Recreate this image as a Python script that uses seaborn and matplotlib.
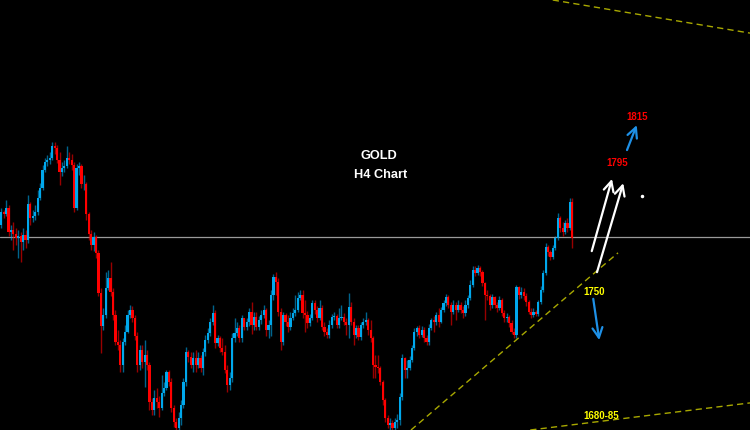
import matplotlib
matplotlib.use("Agg")
import matplotlib.pyplot as plt
import pandas as pd
import seaborn as sns

# GOLD H4 candles (open of each bar = previous close)
first_open = 1787.5
closes = [1794, 1793, 1796, 1784, 1785, 1783, 1781, 1782, 1779, 1782.5,
          1780, 1798, 1791, 1792, 1794, 1801, 1806, 1815, 1819, 1820,
          1821, 1827, 1826, 1820, 1814, 1816, 1817, 1821, 1820, 1817.5,
          1796, 1816, 1817, 1808, 1808, 1793, 1783, 1777.5, 1781.5, 1773.5,
          1753.5, 1737, 1742.5, 1756, 1761, 1754, 1742.5, 1729, 1727.5, 1717.5,
          1729, 1734, 1742.5, 1745, 1741, 1732, 1717.5, 1725, 1719, 1722.5,
          1717.5, 1699, 1695, 1701, 1699, 1696, 1703.5, 1706, 1714, 1709,
          1696, 1689, 1686, 1691, 1697.5, 1709, 1724, 1721.5, 1717.5, 1721,
          1717.5, 1721, 1716, 1724, 1730, 1733.5, 1739, 1743.5, 1728.5, 1731,
          1726, 1724, 1715, 1707.5, 1711, 1731, 1733.5, 1736, 1731, 1741,
          1736.5, 1739, 1744, 1737.5, 1741.5, 1736.5, 1740, 1742.5, 1745, 1735,
          1737.5, 1752.5, 1761.5, 1759, 1744, 1729, 1742.5, 1739, 1736.5, 1741,
          1743.5, 1745, 1751, 1752.5, 1743.5, 1742.5, 1738.5, 1741, 1748.5, 1745,
          1741, 1746, 1736.5, 1734, 1732.5, 1737.5, 1741.5, 1742, 1737.5, 1741,
          1741.5, 1739, 1737.5, 1746.5, 1739, 1732.5, 1736, 1731.5, 1737.5, 1739,
          1740, 1735, 1731, 1717.5, 1716.5, 1716, 1709, 1700, 1691, 1687.5,
          1688.5, 1686, 1689, 1690, 1701.5, 1721, 1715, 1716, 1720, 1726,
          1734, 1736, 1732.5, 1735, 1731, 1729, 1736, 1740, 1739, 1742.5,
          1739, 1745, 1748.5, 1751.5, 1747.5, 1744, 1747.5, 1745, 1747.5, 1745,
          1743.5, 1747.5, 1751, 1757.5, 1765, 1763.5, 1766, 1764, 1758.5, 1752.5,
          1752, 1747.5, 1751.5, 1747.5, 1746, 1750, 1743.5, 1741, 1741.5, 1738.5,
          1734, 1732.5, 1756.5, 1752.5, 1754, 1752, 1749, 1744, 1742.5, 1744,
          1743, 1749, 1755, 1763.5, 1776.5, 1774, 1771.5, 1776, 1781, 1791,
          1786, 1784, 1788.5, 1786, 1799, 1781]
highs = [1796, 1795, 1800, 1797.5, 1787.5, 1789, 1786, 1785, 1784, 1786,
         1785, 1802.5, 1799, 1795, 1797.5, 1805, 1808.5, 1817.5, 1821, 1822.5,
         1824, 1829, 1829, 1827.5, 1824, 1819, 1820, 1827, 1824, 1823,
         1819, 1818, 1819, 1818, 1812.5, 1809, 1794, 1785, 1784, 1782.5,
         1775, 1756, 1746, 1764, 1765, 1769, 1756, 1745, 1735, 1730,
         1731, 1737.5, 1745, 1747.5, 1747, 1742.5, 1734, 1727.5, 1727.5, 1730,
         1725, 1719, 1701, 1705, 1706, 1702, 1712.5, 1709, 1715, 1715,
         1711, 1697.5, 1691, 1694, 1700, 1711, 1726.5, 1725, 1724, 1724,
         1725, 1724, 1722.5, 1726, 1732.5, 1736, 1741, 1747.5, 1745, 1732.5,
         1732, 1731, 1727.5, 1717.5, 1714, 1733.5, 1741, 1739, 1737.5, 1742.5,
         1741, 1741, 1746, 1749, 1744, 1744, 1742, 1745, 1747.5, 1746,
         1740, 1755, 1763, 1764, 1761, 1746, 1744, 1743.5, 1742.5, 1744,
         1746, 1752.5, 1754, 1755, 1755, 1750, 1744.5, 1743, 1750, 1750,
         1747, 1750, 1747.5, 1739, 1736, 1740, 1743, 1744, 1743, 1746,
         1747.5, 1743.5, 1741, 1753.5, 1749, 1741, 1737.5, 1737.5, 1739, 1741,
         1744, 1741, 1740, 1732, 1722.5, 1722.5, 1717, 1710, 1701, 1692.5,
         1691, 1690, 1691, 1693, 1703.5, 1723, 1721.5, 1720, 1722, 1727.5,
         1736, 1737, 1737.5, 1737, 1736.5, 1732.5, 1738, 1741, 1742, 1744,
         1746, 1746.5, 1750, 1753, 1752.5, 1749, 1750, 1749, 1750, 1749,
         1747, 1750, 1752.5, 1760, 1767, 1767, 1767.5, 1767, 1765, 1759,
         1755, 1753, 1753, 1752, 1749, 1752, 1751, 1745, 1743.5, 1742.5,
         1740, 1736, 1757.5, 1757, 1756.5, 1756, 1753.5, 1750, 1746, 1746,
         1745, 1750, 1757, 1765, 1778.5, 1777.5, 1775, 1777.5, 1782, 1793.5,
         1792, 1789, 1790, 1791, 1801, 1801]
lows = [1786, 1791, 1792, 1782, 1780, 1775, 1777.5, 1771, 1769, 1775,
        1776, 1778.5, 1787.5, 1789, 1790, 1792.5, 1800, 1805, 1814, 1817,
        1818, 1820, 1823, 1818.5, 1807.5, 1812, 1814, 1816, 1818, 1815,
        1794, 1795, 1812.5, 1806, 1805, 1790, 1780, 1775, 1774.5, 1771,
        1752, 1723.5, 1735, 1741, 1755, 1752, 1740, 1727.5, 1725, 1714,
        1714, 1727.5, 1733.5, 1741, 1739, 1730, 1714, 1715, 1716, 1706.5,
        1715, 1695, 1692.5, 1692.5, 1696, 1691.5, 1695, 1702, 1705, 1707,
        1694, 1686.5, 1684, 1684, 1687.5, 1696, 1707, 1719, 1716, 1714,
        1714, 1716, 1714, 1712.5, 1722, 1728.5, 1732, 1737.5, 1726, 1727,
        1724, 1722.5, 1713.5, 1704, 1705, 1709, 1729, 1732, 1729, 1729,
        1735, 1735, 1737, 1733, 1735, 1735, 1735, 1738, 1741, 1732,
        1731, 1732, 1750, 1752.5, 1742, 1725, 1727.5, 1737, 1734, 1735,
        1740, 1742, 1744, 1750, 1741, 1734, 1736, 1737, 1740, 1743,
        1739, 1740, 1735, 1732, 1731, 1731, 1736, 1740, 1736, 1736,
        1740, 1737.5, 1732.5, 1731, 1737.5, 1727.5, 1731, 1730, 1730, 1736,
        1737.5, 1732.5, 1729, 1711, 1711, 1713.5, 1707.5, 1697.5, 1689, 1686,
        1685, 1685, 1685, 1686, 1687.5, 1700, 1711, 1711, 1715, 1719,
        1725, 1732, 1731, 1731.5, 1729, 1727.5, 1727.5, 1735, 1734, 1737.5,
        1736.5, 1738.5, 1744, 1747, 1746, 1737.5, 1743, 1740, 1744, 1743.5,
        1741, 1742, 1746, 1750, 1756.5, 1762, 1762.5, 1762, 1757, 1740,
        1750, 1745, 1746, 1746, 1744, 1745, 1742, 1739, 1739, 1736.5,
        1733, 1731, 1731, 1750.5, 1751, 1750, 1747, 1743, 1741, 1741.5,
        1742, 1742, 1748, 1754, 1762.5, 1772, 1770, 1770.5, 1775, 1780,
        1784, 1782, 1783, 1784, 1785, 1776]
level_price = 1781.5

up_color = "#00a8ec"
down_color = "#ff0000"
trend_color = "#a8a800"

sns.set_theme(style="dark", rc={"axes.facecolor": "black",
                                "figure.facecolor": "black",
                                "savefig.facecolor": "black"})
plt.rcParams["font.family"] = ["Liberation Sans", "DejaVu Sans"]

df = pd.DataFrame({"close": closes, "high": highs, "low": lows})
df["open"] = [first_open] + closes[:-1]
df["bar"] = range(len(df))
df["color"] = [up_color if c >= o else down_color for o, c in zip(df["open"], df["close"])]

fig = plt.figure(figsize=(7.5, 4.3), dpi=100)
ax = fig.add_axes([0, 0, 1, 1])

# wicks, then bodies
ax.vlines(df["bar"], df["low"], df["high"], colors=df["color"], lw=1.0, alpha=0.6, zorder=2)
ax.bar(df["bar"], df["close"] - df["open"], bottom=df["open"], width=0.9,
       color=df["color"], linewidth=0, antialiased=False, zorder=3)

ax.axhline(level_price, color="#9a9a9a", lw=0.9, zorder=1)

# trend lines drawn by hand on the chart
dash = (0, (4.5, 3))
ax.plot([0.737, 1.0], [1.0, 0.923], transform=ax.transAxes, color=trend_color, lw=1, ls=dash)
ax.plot([0.548, 0.824], [0.0, 0.412], transform=ax.transAxes, color=trend_color, lw=1, ls=dash)
ax.plot([0.707, 1.0], [0.0, 0.063], transform=ax.transAxes, color=trend_color, lw=1, ls=dash)

ax.text(0.505, 0.638, "GOLD", transform=ax.transAxes, color="white", fontsize=9.2,
        fontweight="bold", ha="center", va="center")
ax.text(0.508, 0.593, "H4 Chart", transform=ax.transAxes, color="white", fontsize=9.2,
        fontweight="bold", ha="center", va="center")

lbl = dict(transform=ax.transAxes, fontsize=7, fontweight="bold", ha="center", va="center")
ax.text(0.849, 0.727, "1815", color="red", **lbl)
ax.text(0.823, 0.621, "1795", color="red", **lbl)
ax.text(0.792, 0.321, "1750", color="yellow", **lbl)
ax.text(0.801, 0.033, "1680-85", color="yellow", **lbl)

def arrow(tail, head, color, lw):
    ax.annotate("", xy=head, xytext=tail, xycoords="axes fraction", textcoords="axes fraction",
                arrowprops=dict(arrowstyle="->,head_length=0.6,head_width=0.3",
                                color=color, lw=lw, shrinkA=0, shrinkB=0))

arrow((0.836, 0.651), (0.849, 0.709), "#1e90e6", 1.6)
arrow((0.789, 0.416), (0.816, 0.584), "white", 1.6)
arrow((0.796, 0.367), (0.831, 0.574), "white", 1.6)
arrow((0.791, 0.305), (0.799, 0.209), "#1e90e6", 1.6)
ax.plot([0.856], [0.544], "o", ms=1.5, color="white", transform=ax.transAxes)

ax.set_xlim(-0.5, 308.1)
ax.set_ylim(1685, 1900)
ax.axis("off")

fig.savefig("out.png", dpi=100, facecolor="black")
